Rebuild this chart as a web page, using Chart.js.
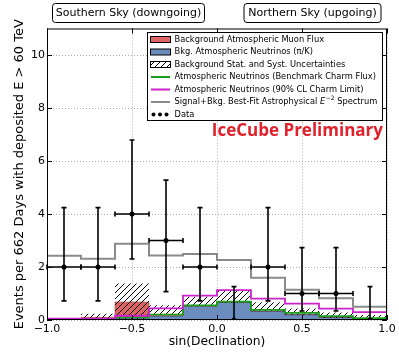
<!DOCTYPE html>
<html>
<head>
<meta charset="utf-8">
<script src="https://cdn.jsdelivr.net/npm/chart.js@4.4.0/dist/chart.umd.min.js"></script>
<style>
  body { margin: 0; background: #fff; }
  canvas { display: block; }
</style>
</head>
<body>
<canvas id="chart" width="399" height="354"></canvas>
<script>
// Binning in sin(declination)
const binEdges = [-1.0, -0.8, -0.6, -0.4, -0.2, 0.0, 0.2, 0.4, 0.6, 0.8, 1.0];
const binCenters = [-0.9, -0.7, -0.5, -0.3, -0.1, 0.1, 0.3, 0.5, 0.7, 0.9];

// Stacked background (events per bin)
const atmNeutrinos = [0.02, 0.04, 0.08, 0.15, 0.52, 0.66, 0.33, 0.2, 0.1, 0.05];
const atmMuons = [0.01, 0.06, 0.6, 0.06, 0.02, 0.0, 0.0, 0.0, 0.0, 0.0];

// Hatched uncertainty band
const bandLow = [0.0, 0.02, 0.0, 0.22, 0.52, 0.66, 0.34, 0.2, 0.08, 0.02];
const bandHigh = [0.07, 0.24, 1.38, 0.56, 0.88, 1.1, 0.67, 0.43, 0.28, 0.19];

// Step lines
const charmBenchmark = [0.03, 0.03, 0.1, 0.2, 0.55, 0.69, 0.38, 0.27, 0.15, 0.07];
const charmLimit = [0.05, 0.05, 0.16, 0.44, 0.92, 1.13, 0.81, 0.62, 0.43, 0.3];
const bestFitE2 = [2.42, 2.31, 2.88, 2.43, 2.49, 2.26, 1.59, 1.14, 0.82, 0.5];

// Observed events with interval ends
const dataCounts = [2, 2, 4, 3, 2, 0, 2, 1, 1, 0];
const dataLow = [0.72, 0.72, 2.3, 1.07, 0.72, 0, 0.72, 0.34, 0.34, 0];
const dataHigh = [4.24, 4.24, 6.79, 5.28, 4.24, 1.26, 4.24, 2.73, 2.73, 1.26];

const xTickStep = 0.5;
const yTickStep = 2;

// Colours
const nuColor = "rgb(106,141,190)";
const muonColor = "rgb(222,100,100)";
const greenColor = "#1c9e1c";
const magentaColor = "#cc22cc";
const grayColor = "#8a8a8a";

const FONT = "'DejaVu Sans', sans-serif";

// Turn per-bin values into a step line over the bin edges
function stepPoints(values) {
  return binEdges.map((x, i) => ({ x: x, y: values[Math.min(i, values.length - 1)] }));
}

function makeHatch() {
  const c = document.createElement("canvas");
  c.width = 6;
  c.height = 6;
  const g = c.getContext("2d");
  g.strokeStyle = "#000";
  g.lineWidth = 1;
  g.beginPath();
  g.moveTo(0, 6); g.lineTo(6, 0);
  g.moveTo(-1, 1); g.lineTo(1, -1);
  g.moveTo(5, 7); g.lineTo(7, 5);
  g.stroke();
  return g.createPattern(c, "repeat");
}
const hatch = makeHatch();

const bkgTotal = atmNeutrinos.map((v, i) => v + atmMuons[i]);

const stepLine = {
  stepped: "before",
  pointRadius: 0,
  tension: 0,
};

// Error bars, axis frame, legend and labels
const decorations = {
  id: "decorations",
  afterDatasetsDraw(chart) {
    const ctx = chart.ctx;
    const xs = chart.scales.x, ys = chart.scales.y;
    ctx.save();
    ctx.strokeStyle = "#000";
    ctx.lineWidth = 1.6;
    binCenters.forEach((c, i) => {
      const x = xs.getPixelForValue(c);
      const y0 = ys.getPixelForValue(dataLow[i]);
      const y1 = ys.getPixelForValue(dataHigh[i]);
      ctx.beginPath();
      ctx.moveTo(x, y0); ctx.lineTo(x, y1);
      ctx.moveTo(x - 2.5, y1); ctx.lineTo(x + 2.5, y1);
      if (dataLow[i] > 0) { ctx.moveTo(x - 2.5, y0); ctx.lineTo(x + 2.5, y0); }
      if (dataCounts[i] > 0) {
        const y = ys.getPixelForValue(dataCounts[i]);
        const xa = xs.getPixelForValue(c - 0.1), xb = xs.getPixelForValue(c + 0.1);
        ctx.moveTo(xa, y); ctx.lineTo(xb, y);
        ctx.moveTo(xa, y - 2.5); ctx.lineTo(xa, y + 2.5);
        ctx.moveTo(xb, y - 2.5); ctx.lineTo(xb, y + 2.5);
      }
      ctx.stroke();
    });
    ctx.restore();
  },
  afterDraw(chart) {
    const ctx = chart.ctx;
    const a = chart.chartArea;
    const xs = chart.scales.x, ys = chart.scales.y;
    ctx.save();

    // frame and inward ticks
    ctx.strokeStyle = "#000";
    ctx.lineWidth = 1;
    ctx.strokeRect(a.left + 0.5, a.top + 0.5, a.right - a.left - 1, a.bottom - a.top - 1);
    ctx.beginPath();
    xs.ticks.forEach(t => {
      const x = Math.round(xs.getPixelForValue(t.value)) + 0.5;
      ctx.moveTo(x, a.bottom); ctx.lineTo(x, a.bottom - 5);
      ctx.moveTo(x, a.top); ctx.lineTo(x, a.top + 5);
    });
    ys.ticks.forEach(t => {
      const y = Math.round(ys.getPixelForValue(t.value)) + 0.5;
      ctx.moveTo(a.left, y); ctx.lineTo(a.left + 5, y);
      ctx.moveTo(a.right, y); ctx.lineTo(a.right - 5, y);
    });
    ctx.stroke();

    // sky region boxes
    ctx.font = "11px " + FONT;
    ctx.textBaseline = "middle";
    ctx.textAlign = "center";
    [["Southern Sky (downgoing)", 52, 204], ["Northern Sky (upgoing)", 243.5, 380.5]].forEach(([txt, l, r]) => {
      ctx.beginPath();
      ctx.roundRect(l + 0.5, 3.5, r - l, 19, 3);
      ctx.fillStyle = "#fff";
      ctx.fill();
      ctx.stroke();
      ctx.fillStyle = "#000";
      ctx.fillText(txt, (l + r) / 2 + 0.5, 13.5);
    });

    // legend
    const lx = 147.5, ly = 32.5, lw = 235, lh = 88;
    ctx.fillStyle = "#fff";
    ctx.fillRect(lx, ly, lw, lh);
    ctx.strokeRect(lx, ly, lw, lh);
    ctx.font = "8.3px " + FONT;
    ctx.textAlign = "left";
    const rows = [
      { kind: "box", color: muonColor, label: "Background Atmospheric Muon Flux" },
      { kind: "box", color: nuColor, label: "Bkg. Atmospheric Neutrinos (\u03c0/K)" },
      { kind: "hatch", label: "Background Stat. and Syst. Uncertainties" },
      { kind: "line", color: greenColor, label: "Atmospheric Neutrinos (Benchmark Charm Flux)" },
      { kind: "line", color: magentaColor, label: "Atmospheric Neutrinos (90% CL Charm Limit)" },
      { kind: "line", color: grayColor, label: "Signal+Bkg. Best-Fit Astrophysical ", e2: true },
      { kind: "dots", label: "Data" },
    ];
    rows.forEach((r, i) => {
      const y = 39.5 + i * 12.5;
      if (r.kind === "box" || r.kind === "hatch") {
        ctx.fillStyle = r.kind === "box" ? r.color : hatch;
        ctx.fillRect(150.5, y - 3, 20, 6);
        ctx.lineWidth = 1;
        ctx.strokeStyle = "#000";
        ctx.strokeRect(150.5, y - 3, 20, 6);
      } else if (r.kind === "line") {
        ctx.strokeStyle = r.color;
        ctx.lineWidth = 2;
        ctx.beginPath();
        ctx.moveTo(151, y); ctx.lineTo(170, y);
        ctx.stroke();
      } else {
        ctx.fillStyle = "#000";
        [153.5, 160, 166.5].forEach(px => {
          ctx.beginPath();
          ctx.arc(px, y, 2, 0, Math.PI * 2);
          ctx.fill();
        });
      }
      ctx.fillStyle = "#000";
      ctx.font = "8.3px " + FONT;
      ctx.fillText(r.label, 174.5, y);
      if (r.e2) {
        let x = 174.5 + ctx.measureText(r.label).width;
        ctx.font = "italic 8.3px " + FONT;
        ctx.fillText("E", x, y);
        x += ctx.measureText("E").width + 0.5;
        ctx.font = "6px " + FONT;
        ctx.fillText("\u22122", x, y - 3.5);
        x += ctx.measureText("\u22122").width;
        ctx.font = "8.3px " + FONT;
        ctx.fillText(" Spectrum", x, y);
      }
    });

    // preliminary mark
    ctx.font = "bold 17px 'Open Sans', sans-serif";
    ctx.fillStyle = "#e0202a";
    ctx.textAlign = "right";
    ctx.textBaseline = "alphabetic";
    ctx.fillText("IceCube Preliminary", 383, 136);
    ctx.restore();
  },
};

const ctx = document.getElementById("chart").getContext("2d");
new Chart(ctx, {
  type: "line",
  data: {
    datasets: [
      {
        ...stepLine,
        data: stepPoints(atmNeutrinos),
        borderColor: "rgba(45,75,125,0.9)",
        borderWidth: 1,
        backgroundColor: nuColor,
        fill: "origin",
        order: 10,
      },
      {
        ...stepLine,
        data: stepPoints(bkgTotal),
        borderColor: "rgba(150,50,50,0.6)",
        borderWidth: 0.8,
        backgroundColor: muonColor,
        fill: "-1",
        order: 9,
      },
      {
        ...stepLine,
        data: stepPoints(bandLow),
        borderColor: "transparent",
        borderWidth: 0,
        fill: false,
        order: 8,
      },
      {
        ...stepLine,
        data: stepPoints(bandHigh),
        borderColor: "transparent",
        borderWidth: 0,
        backgroundColor: hatch,
        fill: "-1",
        order: 7,
      },
      {
        ...stepLine,
        data: stepPoints(charmBenchmark),
        borderColor: greenColor,
        borderWidth: 1.8,
        fill: false,
        order: 6,
      },
      {
        ...stepLine,
        data: stepPoints(charmLimit),
        borderColor: magentaColor,
        borderWidth: 1.8,
        fill: false,
        order: 5,
      },
      {
        ...stepLine,
        data: stepPoints(bestFitE2),
        borderColor: grayColor,
        borderWidth: 2,
        fill: false,
        order: 4,
      },
      {
        type: "scatter",
        data: binCenters.map((x, i) => ({ x: x, y: dataCounts[i] })),
        pointRadius: 2.5,
        pointBackgroundColor: "#000",
        pointBorderWidth: 0,
        showLine: false,
        order: 1,
      },
    ],
  },
  options: {
    responsive: false,
    animation: false,
    devicePixelRatio: 1,
    layout: { padding: { top: 28.5, right: 12, bottom: 0, left: 0 } },
    plugins: {
      legend: { display: false },
      tooltip: { enabled: false },
    },
    scales: {
      x: {
        type: "linear",
        min: -1,
        max: 1,
        afterFit: (s) => { s.height = 34; },
        grid: { color: "#aaa", lineWidth: 1, drawTicks: false },
        border: { display: false, dash: [1, 2] },
        ticks: {
          stepSize: xTickStep,
          padding: 3,
          maxRotation: 0,
          autoSkip: false,
          color: "#000",
          font: { family: FONT, size: 11 },
          callback: (v) => (v < 0 ? "\u2212" : "") + Math.abs(v).toFixed(1),
        },
        title: {
          display: true,
          text: "sin(Declination)",
          color: "#000",
          font: { family: FONT, size: 12.3 },
          padding: { top: 0, bottom: 5 },
        },
      },
      y: {
        min: 0,
        max: 11,
        afterFit: (s) => { s.width = 47; },
        grid: { color: "#aaa", lineWidth: 1, drawTicks: false },
        border: { display: false, dash: [1, 2] },
        ticks: {
          stepSize: yTickStep,
          includeBounds: false,
          padding: 2,
          color: "#000",
          font: { family: FONT, size: 11 },
        },
        title: {
          display: true,
          text: "Events per 662 Days with deposited E > 60 TeV",
          color: "#000",
          font: { family: FONT, size: 13 },
          padding: { top: 12, bottom: 0 },
        },
      },
    },
  },
  plugins: [decorations],
});
</script>
</body>
</html>
